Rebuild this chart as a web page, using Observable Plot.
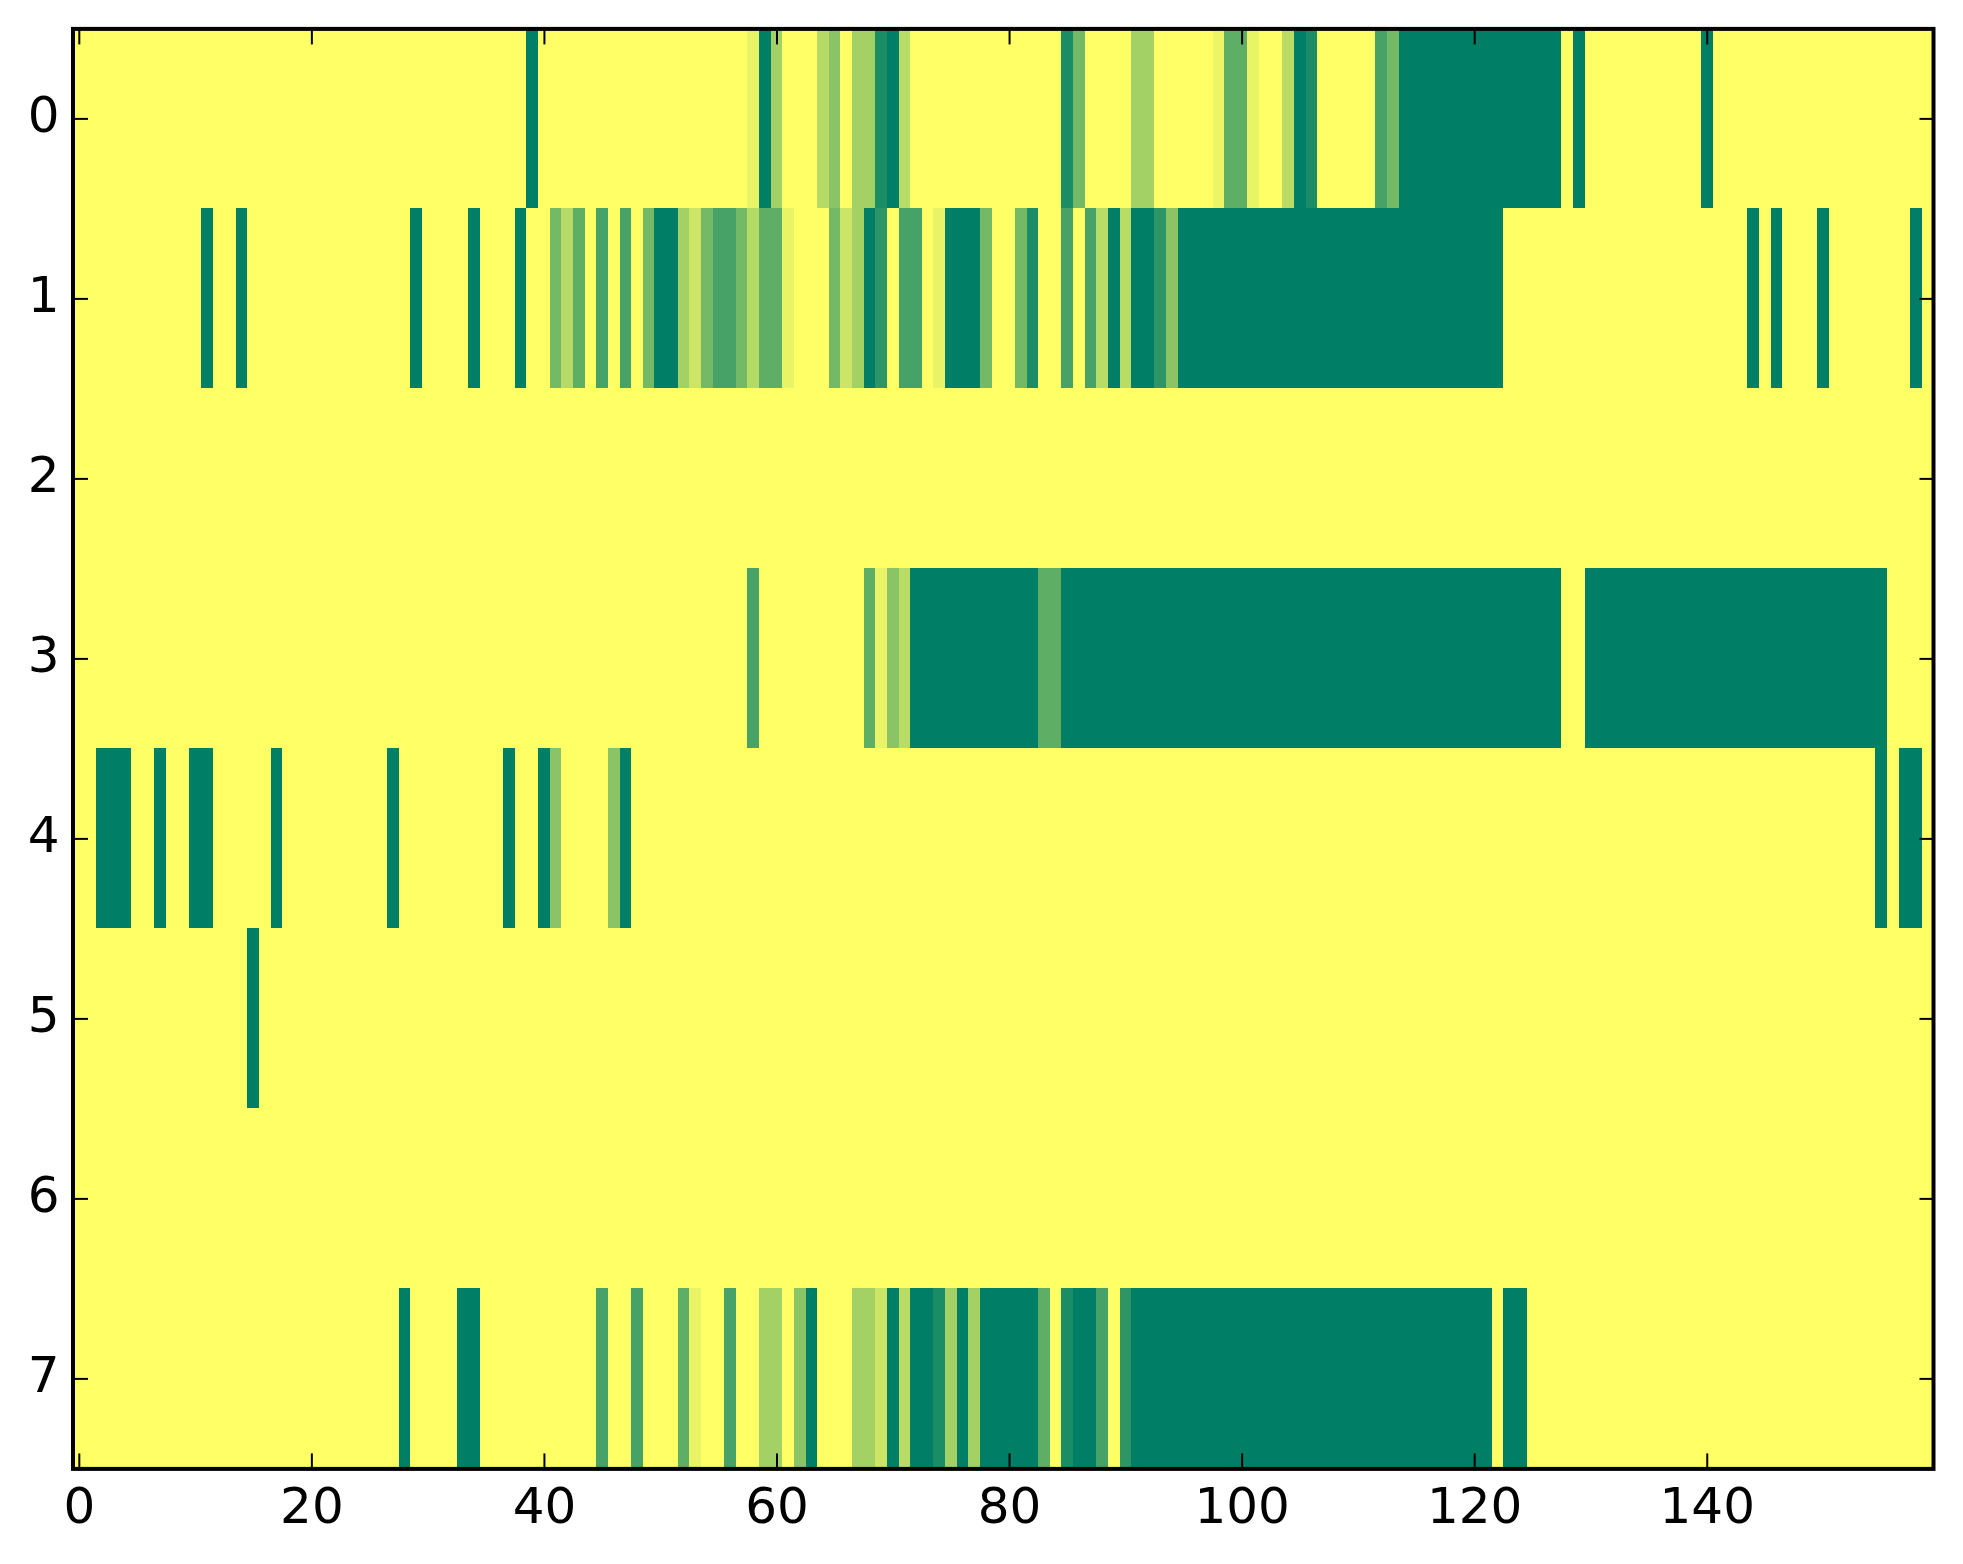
<!DOCTYPE html>
<html>
<head>
<meta charset="utf-8">
<script src="https://cdn.jsdelivr.net/npm/d3@7"></script>
<script src="https://cdn.jsdelivr.net/npm/@observablehq/plot@0.6"></script>
<style>
html,body{margin:0;padding:0;background:#fff;}
svg{display:block;}
</style>
</head>
<body>
<div id="chart"></div>
<script>
const columnCount = 160;
const rowLabels = [0, 1, 2, 3, 4, 5, 6, 7];
const xTickValues = [0, 20, 40, 60, 80, 100, 120, 140];

const row0Cols = [39, 58, 59, 60, 64, 65, 67, 68, 69, 70, 71, 85, 86, 91, 92, 98, 99, 100, 101, 104, 105, 106, 112, 113, 114, 115, 116, 117, 118, 119, 120, 121, 122, 123, 124, 125, 126, 127, 129, 140];
const row0Vals = [1, .09, 1, .36, .29, .46, .36, .36, .9, 1, .275, .9, .55, .36, .36, .08, .63, .63, .09, .275, 1, .9, .725, .55, 1, 1, 1, 1, 1, 1, 1, 1, 1, 1, 1, 1, 1, 1, 1, 1];

const row1Cols = [11, 14, 29, 34, 38, 41, 42, 43, 45, 47, 49, 50, 51, 52, 53, 54, 55, 56, 57, 58, 59, 60, 61, 65, 66, 67, 68, 69, 71, 72, 74, 75, 76, 77, 78, 81, 82, 85, 87, 88, 89, 90, 91, 92, 93, 94, 95, 96, 97, 98, 99, 100, 101, 102, 103, 104, 105, 106, 107, 108, 109, 110, 111, 112, 113, 114, 115, 116, 117, 118, 119, 120, 121, 122, 144, 146, 150, 158];
const row1Vals = [1, 1, 1, 1, 1, .55, .29, .63, .725, .725, .55, 1, 1, .36, .2, .55, .725, .725, .55, .29, .63, .63, .09, .55, .2, .36, 1, .82, .725, .725, .09, 1, 1, 1, .55, .55, .9, .725, .725, .275, 1, .275, 1, 1, .82, .46, 1, 1, 1, 1, 1, 1, 1, 1, 1, 1, 1, 1, 1, 1, 1, 1, 1, 1, 1, 1, 1, 1, 1, 1, 1, 1, 1, 1, 1, 1, 1, 1];

const row3Cols = [58, 68, 69, 70, 71, 72, 73, 74, 75, 76, 77, 78, 79, 80, 81, 82, 83, 84, 85, 86, 87, 88, 89, 90, 91, 92, 93, 94, 95, 96, 97, 98, 99, 100, 101, 102, 103, 104, 105, 106, 107, 108, 109, 110, 111, 112, 113, 114, 115, 116, 117, 118, 119, 120, 121, 122, 123, 124, 125, 126, 127, 130, 131, 132, 133, 134, 135, 136, 137, 138, 139, 140, 141, 142, 143, 144, 145, 146, 147, 148, 149, 150, 151, 152, 153, 154, 155];
const row3Vals = [.725, .63, .09, .46, .275, 1, 1, 1, 1, 1, 1, 1, 1, 1, 1, 1, .63, .63, 1, 1, 1, 1, 1, 1, 1, 1, 1, 1, 1, 1, 1, 1, 1, 1, 1, 1, 1, 1, 1, 1, 1, 1, 1, 1, 1, 1, 1, 1, 1, 1, 1, 1, 1, 1, 1, 1, 1, 1, 1, 1, 1, 1, 1, 1, 1, 1, 1, 1, 1, 1, 1, 1, 1, 1, 1, 1, 1, 1, 1, 1, 1, 1, 1, 1, 1, 1, 1];

const row4Cols = [2, 3, 4, 7, 10, 11, 17, 27, 37, 40, 41, 46, 47, 155, 157, 158];
const row4Vals = [1, 1, 1, 1, 1, 1, 1, 1, 1, 1, .46, .46, 1, 1, 1, 1];

const row5Cols = [15];
const row5Vals = [1];

const row7Cols = [28, 33, 34, 45, 48, 52, 53, 56, 59, 60, 62, 63, 67, 68, 69, 70, 71, 72, 73, 74, 75, 76, 77, 78, 79, 80, 81, 82, 83, 85, 86, 87, 88, 90, 91, 92, 93, 94, 95, 96, 97, 98, 99, 100, 101, 102, 103, 104, 105, 106, 107, 108, 109, 110, 111, 112, 113, 114, 115, 116, 117, 118, 119, 120, 121, 123, 124];
const row7Vals = [1, 1, 1, .725, .725, .63, .09, .725, .36, .36, .46, 1, .36, .36, .2, 1, .275, 1, 1, .9, .36, 1, .36, 1, 1, 1, 1, 1, .63, .9, 1, 1, .725, .82, 1, 1, 1, 1, 1, 1, 1, 1, 1, 1, 1, 1, 1, 1, 1, 1, 1, 1, 1, 1, 1, 1, 1, 1, 1, 1, 1, 1, 1, 1, 1, 1, 1];

const sparseRows = {
  0: [row0Cols, row0Vals],
  1: [row1Cols, row1Vals],
  3: [row3Cols, row3Vals],
  4: [row4Cols, row4Vals],
  5: [row5Cols, row5Vals],
  7: [row7Cols, row7Vals]
};

const cells = [];
for (const row of rowLabels) {
  const values = new Array(columnCount).fill(0);
  if (sparseRows[row]) sparseRows[row][0].forEach((c, i) => { values[c] = sparseRows[row][1][i]; });
  values.forEach((value, col) => cells.push({row, col, value}));
}

const fontFamily = '"DejaVu Sans", sans-serif';
const chart = Plot.plot({
  width: 1963,
  height: 1564,
  marginLeft: 73,
  marginRight: 29.5,
  marginTop: 28.4,
  marginBottom: 95.6,
  style: {background: "#fff", fontFamily, overflow: "visible"},
  x: {type: "linear", domain: [-0.5, 159.5], axis: null},
  y: {type: "linear", domain: [7.5, -0.5], axis: null},
  color: {type: "linear", domain: [0, 1], range: ["#ffff66", "#007f66"], interpolate: "rgb"},
  marks: [
    Plot.rect(cells, {
      x1: d => d.col - 0.5,
      x2: d => d.col + 0.5,
      y1: d => d.row - 0.5,
      y2: d => d.row + 0.5,
      fill: "value",
      shapeRendering: "crispEdges"
    }),
    Plot.axisX({anchor: "bottom", ticks: xTickValues, text: null, label: null, tickSize: -15, strokeWidth: 2, stroke: "#000"}),
    Plot.axisX({anchor: "top", ticks: xTickValues, text: null, label: null, tickSize: -15, strokeWidth: 2, stroke: "#000"}),
    Plot.axisY({anchor: "left", ticks: rowLabels, text: null, label: null, tickSize: -15, strokeWidth: 2, stroke: "#000"}),
    Plot.axisY({anchor: "right", ticks: rowLabels, text: null, label: null, tickSize: -15, strokeWidth: 2, stroke: "#000"}),
    Plot.axisX({anchor: "bottom", ticks: xTickValues, tickSize: 0, tickPadding: 18.5, label: null, fontSize: 50, fill: "#000", tickFormat: d => String(d)}),
    Plot.axisY({anchor: "left", ticks: rowLabels, tickSize: 0, tickPadding: 14, dy: -2.5, label: null, fontSize: 50, fill: "#000", tickFormat: d => String(d)}),
    Plot.frame({stroke: "#000", strokeWidth: 4, dx: -0.5})
  ]
});
document.getElementById("chart").appendChild(chart);
</script>
</body>
</html>
